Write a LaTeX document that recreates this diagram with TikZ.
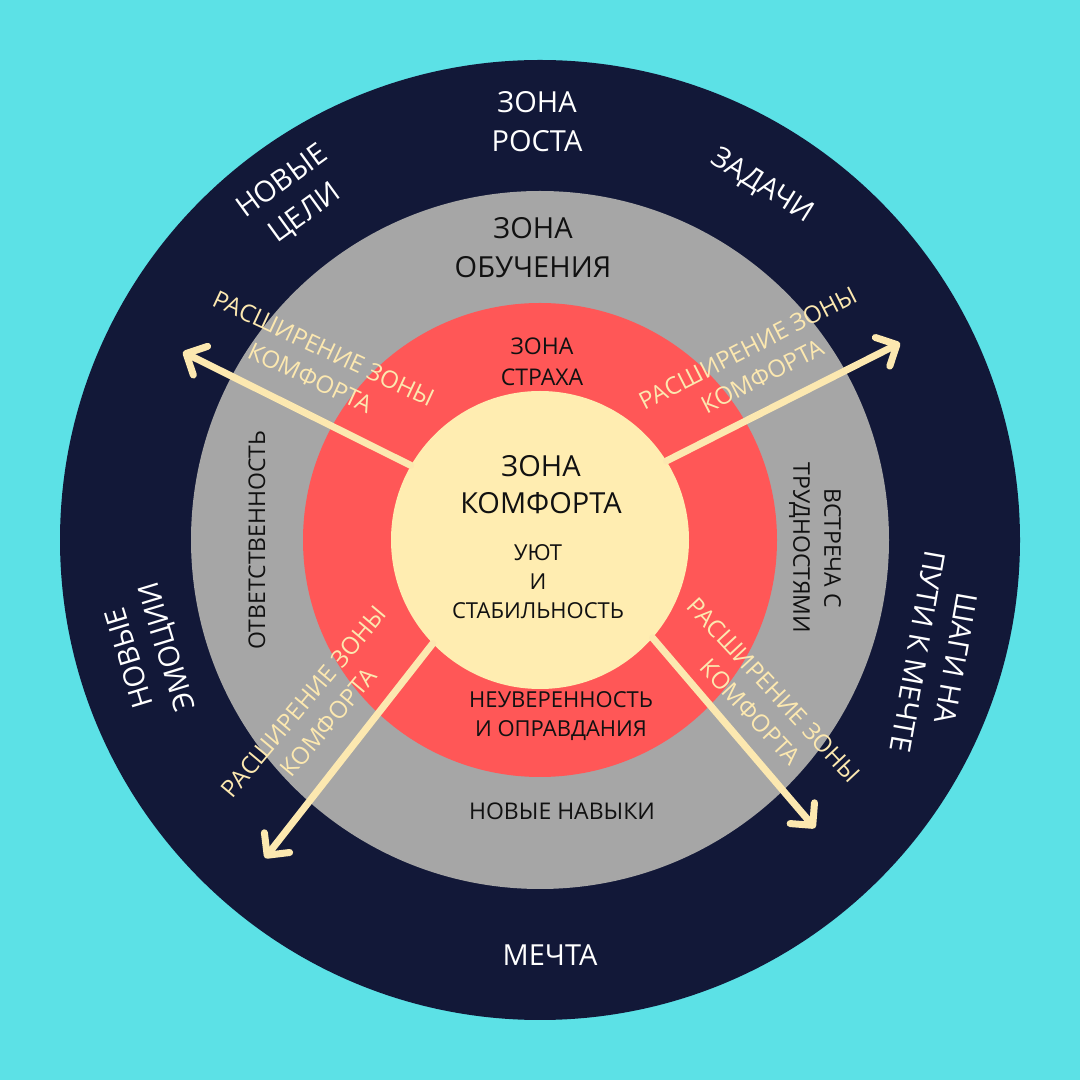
\documentclass[tikz,border=0pt]{standalone}
\usepackage{fontspec}
\setmainfont{Open Sans}
\usetikzlibrary{arrows.meta}
\definecolor{bgc}{HTML}{5CE1E6}
\definecolor{navy}{HTML}{121838}
\definecolor{greyz}{HTML}{A6A6A6}
\definecolor{redz}{HTML}{FF5757}
\definecolor{yelz}{HTML}{FFEDB1}
\definecolor{cream}{HTML}{FCE8B0}
\definecolor{ink}{HTML}{111111}
\begin{document}
\begin{tikzpicture}[x=1pt,y=1pt,
  zone/.style={circle,inner sep=0pt,draw=none},
  big/.style={font=\fontsize{29}{39}\selectfont, align=center, inner sep=0pt},
  small/.style={font=\fontsize{23}{31}\selectfont, align=center, inner sep=0pt},
  lab/.style={font=\fontsize{24}{32}\selectfont, align=center, inner sep=0pt, text=cream},
  arr/.style={draw=cream, line width=7pt, line cap=round,
    -{Straight Barb[length=16pt,width=32pt,round]}}
]
\fill[bgc] (0,0) rectangle (1080,1080);
\useasboundingbox (0,0) rectangle (1080,1080);

% zones
\node[zone, fill=navy,  minimum size=960pt] (growth)  at (540,540) {};
\node[zone, fill=greyz, minimum size=698pt] (learn)   at (540,540) {};
\node[zone, fill=redz,  minimum size=474pt] (fear)    at (540,540) {};
\node[zone, fill=yelz,  minimum size=298pt] (comfort) at (540,540) {};

% arrow ends
\coordinate (e1) at (183,728);
\coordinate (e2) at (900,737);
\coordinate (e3) at (265,222);
\coordinate (e4) at (815,252);

\draw[arr] (comfort.150) -- (e1);
\draw[arr] (comfort.32) -- (e2);
\draw[arr] (comfort.224) -- (e3);
\draw[arr] (comfort.-41) -- (e4);

% growth zone texts (white)
\node[big, text=white] (tgrowth) at (537,958) {ЗОНА\\РОСТА};
\node[big, text=white] (tdream) at (550,125) {МЕЧТА};
\node[big, text=white, rotate=36] (tgoals) at (294,882) {НОВЫЕ\\ЦЕЛИ};
\node[big, text=white, rotate=-32] (ttasks) at (762,894) {ЗАДАЧИ};
\node[big, text=white, rotate=107] (temo) at (150,428) {НОВЫЕ\\ЭМОЦИИ};
\node[big, text=white, rotate=-100] (tsteps) at (937,425) {ШАГИ НА\\ПУТИ К МЕЧТЕ};

% learning zone texts
\node[big, text=ink] (tlearn) at (533,832) {ЗОНА\\ОБУЧЕНИЯ};
\node[small, text=ink, rotate=90] (tresp) at (257,540) {ОТВЕТСТВЕННОСТЬ};
\node[small, text=ink, rotate=-90] (tmeet) at (815,532) {ВСТРЕЧА С\\ТРУДНОСТЯМИ};
\node[small, text=ink] (tskills) at (562,269) {НОВЫЕ НАВЫКИ};

% fear zone texts
\node[small, text=ink] (tfear) at (542,718) {ЗОНА\\СТРАХА};
\node[small, text=ink, font=\fontsize{22}{29}\selectfont] (tunsure) at (561,364) {НЕУВЕРЕННОСТЬ\\И ОПРАВДАНИЯ};

% comfort zone texts
\node[big, text=ink, font=\fontsize{29}{37}\selectfont] (tcomf) at (541,595) {ЗОНА\\КОМФОРТА};
\node[small, text=ink, font=\fontsize{22}{29}\selectfont] (tcosy) at (538,498) {УЮТ\\И\\СТАБИЛЬНОСТЬ};

% arrow labels
\node[lab, rotate=-25] (l1) at (317,717) {РАСШИРЕНИЕ ЗОНЫ\\КОМФОРТА};
\node[lab, rotate=27]  (l2) at (755,718) {РАСШИРЕНИЕ ЗОНЫ\\КОМФОРТА};
\node[lab, rotate=50]  (l3) at (316,368) {РАСШИРЕНИЕ ЗОНЫ\\КОМФОРТА};
\node[lab, rotate=-47] (l4) at (762,379) {РАСШИРЕНИЕ ЗОНЫ\\КОМФОРТА};
\end{tikzpicture}
\end{document}
